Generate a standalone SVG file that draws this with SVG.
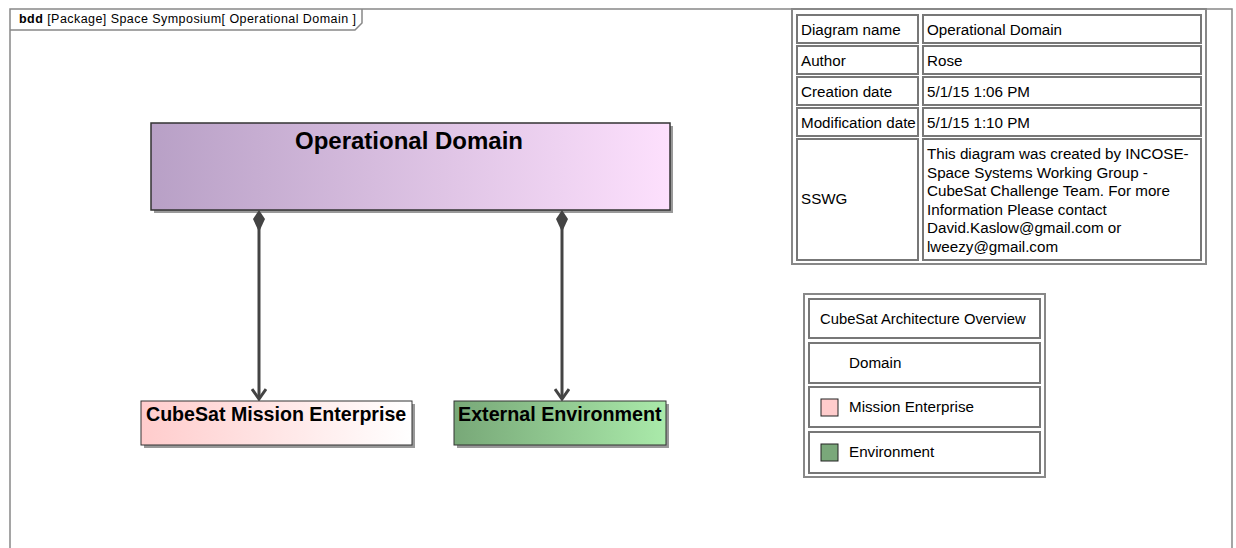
<svg xmlns="http://www.w3.org/2000/svg" width="1236" height="548" viewBox="0 0 1236 548">
<style>
.t{font-family:"Liberation Sans",Arial,sans-serif;fill:#000}
.cell{fill:#fff;stroke:#777;stroke-width:2}
.outer{fill:#fff;stroke:#888;stroke-width:2}
.frame{fill:none;stroke:#888;stroke-width:1.5}
.tc{font-size:15.2px}
.nb{font-weight:bold}
.conn{stroke:#444;stroke-width:3;fill:none}
.dia{fill:#444}
</style>
<defs>
<linearGradient id="gDom" x1="0" y1="0" x2="1" y2="0"><stop offset="0" stop-color="#b8a0c6"/><stop offset="1" stop-color="#fde0fd"/></linearGradient>
<linearGradient id="gMis" x1="0" y1="0" x2="1" y2="0"><stop offset="0" stop-color="#ffcccc"/><stop offset="1" stop-color="#ffffff"/></linearGradient>
<linearGradient id="gEnv" x1="0" y1="0" x2="1" y2="0"><stop offset="0" stop-color="#78a878"/><stop offset="1" stop-color="#aaeaaa"/></linearGradient>
<marker id="arr" markerWidth="16" markerHeight="14" refX="8" refY="12" orient="0" markerUnits="userSpaceOnUse" viewBox="0 0 16 14"><path d="M1 2 L8 12 L15 2" fill="none" stroke="#444" stroke-width="3"/></marker>
</defs>
<rect width="1236" height="548" fill="#fff"/>
<g id="frame">
<path class="frame" d="M10 560 L10 9 L1232 9 L1232 560"/>
<path class="frame" d="M10 30 L355 30 L362 23 L362 9"/>
<text class="t" x="19" y="23" font-size="12.5" textLength="337" lengthAdjust="spacing"><tspan font-weight="bold">bdd</tspan> [Package] Space Symposium[ Operational Domain ]</text>
</g>
<g id="operational-domain">
<rect x="154" y="126" width="519" height="87" fill="#999"/>
<rect x="151" y="123" width="519" height="87" fill="url(#gDom)" stroke="#333" stroke-width="1.5"/>
<text class="t nb" x="409" y="149" font-size="24" text-anchor="middle">Operational Domain</text>
</g>
<g id="cubesat-mission-enterprise">
<rect x="144" y="404" width="271" height="44" fill="#999"/>
<rect x="141" y="401" width="271" height="44" fill="url(#gMis)" stroke="#333" stroke-width="1"/>
<text class="t nb" x="146" y="421" font-size="19.6">CubeSat Mission Enterprise</text>
</g>
<g id="external-environment">
<rect x="457" y="404" width="212" height="44" fill="#999"/>
<rect x="454" y="401" width="212" height="44" fill="url(#gEnv)" stroke="#333" stroke-width="1"/>
<text class="t nb" x="458" y="421" font-size="19.7">External Environment</text>
</g>
<g id="connectors">
<line class="conn" x1="259" y1="228" x2="259" y2="399" marker-end="url(#arr)"/>
<path class="dia" d="M259 210 L265 219 L259 232 L253 219 Z"/>
<line class="conn" x1="562" y1="228" x2="562" y2="399" marker-end="url(#arr)"/>
<path class="dia" d="M562 210 L568 219 L562 232 L556 219 Z"/>
</g>
<g id="info-table">
<rect class="outer" x="792" y="9" width="414" height="255"/>
<rect class="cell" x="797" y="15" width="121" height="28"/>
<rect class="cell" x="923" y="15" width="278" height="28"/>
<rect class="cell" x="797" y="46" width="121" height="28"/>
<rect class="cell" x="923" y="46" width="278" height="28"/>
<rect class="cell" x="797" y="77" width="121" height="28"/>
<rect class="cell" x="923" y="77" width="278" height="28"/>
<rect class="cell" x="797" y="108" width="121" height="28"/>
<rect class="cell" x="923" y="108" width="278" height="28"/>
<rect class="cell" x="797" y="139" width="121" height="121"/>
<rect class="cell" x="923" y="139" width="278" height="121"/>
<text class="t tc" x="801" y="34.5">Diagram name</text>
<text class="t tc" x="927" y="34.5">Operational Domain</text>
<text class="t tc" x="801" y="65.5">Author</text>
<text class="t tc" x="927" y="65.5">Rose</text>
<text class="t tc" x="801" y="96.5">Creation date</text>
<text class="t tc" x="927" y="96.5">5/1/15 1:06 PM</text>
<text class="t tc" x="801" y="127.5">Modification date</text>
<text class="t tc" x="927" y="127.5">5/1/15 1:10 PM</text>
<text class="t tc" x="801" y="204">SSWG</text>
<text class="t tc" x="927" y="159">This diagram was created by INCOSE-</text>
<text class="t tc" x="927" y="177.5">Space Systems Working Group -</text>
<text class="t tc" x="927" y="196">CubeSat Challenge Team. For more</text>
<text class="t tc" x="927" y="214.5">Information Please contact</text>
<text class="t tc" x="927" y="233">David.Kaslow@gmail.com or</text>
<text class="t tc" x="927" y="251.5">lweezy@gmail.com</text>
</g>
<g id="legend">
<rect class="outer" x="804" y="294" width="241" height="183"/>
<rect class="cell" x="809" y="299" width="231" height="39"/>
<rect class="cell" x="809" y="343" width="231" height="40"/>
<rect class="cell" x="809" y="387" width="231" height="40"/>
<rect class="cell" x="809" y="432" width="231" height="41"/>
<text class="t" x="820" y="324" font-size="14.8">CubeSat Architecture Overview</text>
<text class="t tc" x="849" y="368">Domain</text>
<rect x="821" y="399" width="17" height="17" fill="#ffcccc" stroke="#222" stroke-width="1"/>
<text class="t tc" x="849" y="412">Mission Enterprise</text>
<rect x="821" y="444" width="17" height="17" fill="#7aa87a" stroke="#222" stroke-width="1"/>
<text class="t tc" x="849" y="457">Environment</text>
</g>
</svg>
